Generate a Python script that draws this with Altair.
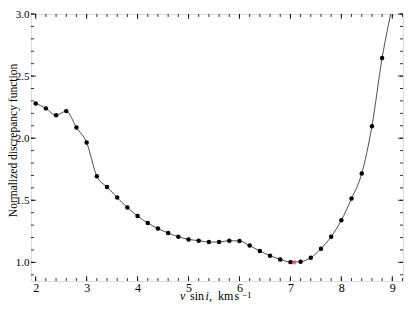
import altair as alt
import pandas as pd

# measured points
vsini = [2.0, 2.2, 2.4, 2.6, 2.8, 3.0, 3.2, 3.4, 3.6, 3.8, 4.0, 4.2, 4.4, 4.6, 4.8,
         5.0, 5.2, 5.4, 5.6, 5.8, 6.0, 6.2, 6.4, 6.6, 6.8, 7.0, 7.2, 7.4, 7.6, 7.8,
         8.0, 8.2, 8.4, 8.6, 8.8]
disc = [2.28, 2.24, 2.185, 2.218, 2.086, 1.965, 1.694, 1.607, 1.522, 1.441, 1.373,
        1.317, 1.272, 1.236, 1.207, 1.185, 1.175, 1.164, 1.164, 1.175, 1.172, 1.135,
        1.091, 1.054, 1.024, 1.002, 1.005, 1.038, 1.11, 1.207, 1.339, 1.514, 1.715,
        2.097, 2.645]
# curve continues off the top of the plot
curve_x_extra = [9.0]
curve_y_extra = [3.06]
# best-fit minimum
best_x = [7.07]
best_y = [1.0]

x_major = [2, 3, 4, 5, 6, 7, 8, 9]
x_minor = [round(2.0 + 0.2 * i, 1) for i in range(37)]
y_major = [1.0, 1.5, 2.0, 2.5, 3.0]
y_minor = [round(0.9 + 0.1 * i, 1) for i in range(22)]

W, H = 372, 267
FONT = "Liberation Serif"
XDOM = [1.908, 9.21]
YDOM = [0.85, 3.0]

pts = pd.DataFrame({"x": vsini, "y": disc})
curve = pd.DataFrame({"x": vsini + curve_x_extra, "y": disc + curve_y_extra})
best = pd.DataFrame({"x": best_x, "y": best_y})

xs = alt.Scale(domain=XDOM, nice=False, zero=False)
ys = alt.Scale(domain=YDOM, nice=False, zero=False)

xaxis = alt.Axis(values=x_major, format="d", ticks=False, domain=False, grid=False,
                 labelFont=FONT, labelFontSize=12, labelColor="black", labelPadding=1,
                 labelFlush=False, labelOverlap=False, title=None)
yaxis = alt.Axis(values=y_major, format=".1f", ticks=False, domain=False, grid=False,
                 labelFont=FONT, labelFontSize=11, labelColor="black", labelPadding=2,
                 labelFlush=False, labelOverlap=False,
                 title="Normalized discrepancy function", titleFont=FONT,
                 titleFontSize=11.5, titleFontWeight="normal", titleColor="black",
                 titleX=-15, titleY=126, titleAngle=270, titleAlign="center",
                 titleBaseline="alphabetic")

line = alt.Chart(curve).mark_line(color="#222222", strokeWidth=0.8, interpolate="monotone",
                                  clip=True).encode(
    x=alt.X("x:Q", scale=xs, axis=xaxis),
    y=alt.Y("y:Q", scale=ys, axis=yaxis),
)
dots = alt.Chart(pts).mark_circle(color="black", size=20, opacity=1).encode(
    x=alt.X("x:Q", scale=xs), y=alt.Y("y:Q", scale=ys))
cross = alt.Chart(best).mark_point(shape="M-1,-1L1,1M-1,1L1,-1", filled=False,
                                   color="#e8202a", size=14, strokeWidth=1.2).encode(
    x=alt.X("x:Q", scale=xs), y=alt.Y("y:Q", scale=ys))

def xticks(vals, length):
    d = pd.DataFrame({"x": vals})
    b = alt.Chart(d).mark_rule(color="black", strokeWidth=0.8).encode(
        x=alt.X("x:Q", scale=xs), y=alt.value(H), y2=alt.value(H - length))
    t = alt.Chart(d).mark_rule(color="black", strokeWidth=0.8).encode(
        x=alt.X("x:Q", scale=xs), y=alt.value(0), y2=alt.value(length))
    return b + t

def yticks(vals, length):
    d = pd.DataFrame({"y": vals})
    l = alt.Chart(d).mark_rule(color="black", strokeWidth=0.8).encode(
        y=alt.Y("y:Q", scale=ys), x=alt.value(0), x2=alt.value(length))
    r = alt.Chart(d).mark_rule(color="black", strokeWidth=0.8).encode(
        y=alt.Y("y:Q", scale=ys), x=alt.value(W), x2=alt.value(W - length))
    return l + r

# x-axis title built from pieces (italic v and i, superscript -1)
TY = H + 19
title_parts = [
    ("v", 149, TY, 12, "italic"),
    ("sin", 159, TY, 12, "normal"),
    ("i", 174.5, TY, 12, "italic"),
    (",", 178, TY, 12, "normal"),
    ("km", 187, TY, 12, "normal"),
    ("s", 203.5, TY, 12, "normal"),
    ("\u22121", 211, TY - 2.5, 9, "normal"),
]
titles = []
for txt, px, py, fs, st in title_parts:
    titles.append(alt.Chart(pd.DataFrame({"t": [txt]})).mark_text(
        font=FONT, fontSize=fs, fontStyle=st, align="left", baseline="alphabetic",
        color="black").encode(text="t:N", x=alt.value(px), y=alt.value(py)))

chart = alt.layer(
    line, dots, cross,
    xticks(x_minor, 3), xticks(x_major, 5),
    yticks(y_minor, 3), yticks(y_major, 5),
    *titles,
).properties(
    width=W, height=H,
    padding={"left": 23, "top": 6, "right": 2, "bottom": 21},
    autosize=alt.AutoSizeParams(type="none"),
).configure_view(stroke="black", strokeWidth=1).configure(background="white")

chart.save("out.html", embed_options={"renderer": "svg", "actions": False})
